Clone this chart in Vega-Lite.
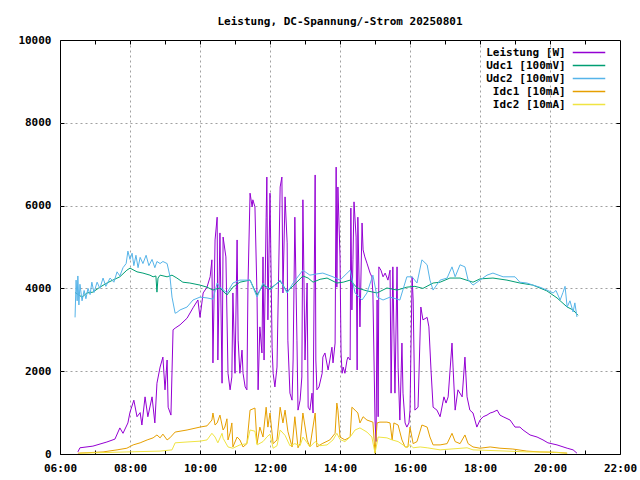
{
  "$schema": "https://vega.github.io/schema/vega-lite/v6.json",
  "width": 560,
  "height": 414,
  "autosize": "none",
  "padding": {"left": 60, "top": 40, "right": 20, "bottom": 26},
  "background": "white",
  "title": {
    "text": "Leistung, DC-Spannung/-Strom 20250801",
    "font": "DejaVu Sans Mono", "fontSize": 11, "fontWeight": "bold", "color": "black",
    "anchor": "middle", "offset": 7
  },
  "config": {
    "view": {"stroke": "black", "strokeWidth": 1},
    "axis": {
      "labelFont": "DejaVu Sans Mono", "labelFontSize": 11, "labelFontWeight": "bold",
      "labelColor": "black", "domain": false, "tickColor": "black", "tickSize": -4,
      "gridColor": "#a0a0a0", "gridDash": [2, 3], "title": null
    }
  },
  "datasets": {
    "P": [
      {"h":6.51,"v":50},{"h":6.57,"v":150},{"h":6.94,"v":190},{"h":7.34,"v":290},{"h":7.57,"v":360},
      {"h":7.71,"v":630},{"h":7.80,"v":500},{"h":7.94,"v":750},{"h":8.00,"v":1010},{"h":8.11,"v":1300},
      {"h":8.20,"v":900},{"h":8.29,"v":1000},{"h":8.34,"v":700},{"h":8.43,"v":1380},{"h":8.51,"v":900},
      {"h":8.63,"v":1380},{"h":8.71,"v":750},{"h":8.77,"v":1710},{"h":8.86,"v":2100},{"h":8.94,"v":2340},
      {"h":9.00,"v":1550},{"h":9.06,"v":2270},{"h":9.09,"v":1130},{"h":9.17,"v":940},{"h":9.23,"v":3000},
      {"h":9.29,"v":3040},{"h":9.43,"v":3120},{"h":9.63,"v":3280},{"h":9.80,"v":3530},{"h":9.94,"v":3720},
      {"h":10.00,"v":3300},{"h":10.09,"v":3890},{"h":10.20,"v":4030},{"h":10.29,"v":4280},{"h":10.34,"v":4690},
      {"h":10.37,"v":2200},{"h":10.43,"v":5170},{"h":10.49,"v":5720},{"h":10.51,"v":2270},{"h":10.57,"v":5340},
      {"h":10.63,"v":1710},{"h":10.66,"v":5240},{"h":10.74,"v":4760},{"h":10.80,"v":1950},{"h":10.86,"v":1550},
      {"h":10.91,"v":1860},{"h":10.94,"v":3890},{"h":11.00,"v":1950},{"h":11.06,"v":5170},{"h":11.09,"v":2750},
      {"h":11.14,"v":1950},{"h":11.20,"v":2510},{"h":11.23,"v":1950},{"h":11.29,"v":1620},{"h":11.34,"v":1550},
      {"h":11.37,"v":4030},{"h":11.43,"v":6300},{"h":11.49,"v":5970},{"h":11.51,"v":6140},{"h":11.57,"v":5970},
      {"h":11.63,"v":3790},{"h":11.66,"v":1550},{"h":11.71,"v":3070},{"h":11.77,"v":2440},{"h":11.80,"v":4760},
      {"h":11.83,"v":2270},{"h":11.89,"v":5720},{"h":11.91,"v":6690},{"h":11.94,"v":3240},{"h":12.00,"v":6300},
      {"h":12.06,"v":2580},{"h":12.09,"v":1950},{"h":12.14,"v":1620},{"h":12.20,"v":2100},{"h":12.29,"v":6450},
      {"h":12.34,"v":6690},{"h":12.37,"v":3890},{"h":12.43,"v":6210},{"h":12.49,"v":5100},{"h":12.51,"v":2750},
      {"h":12.57,"v":1470},{"h":12.63,"v":1300},{"h":12.66,"v":2270},{"h":12.71,"v":5720},{"h":12.77,"v":2750},
      {"h":12.80,"v":1060},{"h":12.86,"v":1300},{"h":12.91,"v":1860},{"h":12.94,"v":6140},{"h":13.00,"v":2270},
      {"h":13.06,"v":4130},{"h":13.09,"v":1130},{"h":13.14,"v":1060},{"h":13.20,"v":1470},{"h":13.23,"v":990},
      {"h":13.29,"v":6740},{"h":13.31,"v":2270},{"h":13.34,"v":1550},{"h":13.40,"v":1620},{"h":13.49,"v":1950},
      {"h":13.51,"v":2340},{"h":13.57,"v":2440},{"h":13.66,"v":2030},{"h":13.71,"v":2270},{"h":13.77,"v":2580},
      {"h":13.80,"v":2200},{"h":13.86,"v":2680},{"h":13.89,"v":6930},{"h":13.91,"v":4030},{"h":13.94,"v":6450},
      {"h":14.00,"v":4760},{"h":14.03,"v":2440},{"h":14.06,"v":1950},{"h":14.09,"v":2100},{"h":14.14,"v":1950},
      {"h":14.20,"v":2270},{"h":14.23,"v":2340},{"h":14.29,"v":2270},{"h":14.31,"v":5940},{"h":14.34,"v":3480},
      {"h":14.37,"v":4690},{"h":14.40,"v":6090},{"h":14.46,"v":5240},{"h":14.49,"v":2030},{"h":14.51,"v":5720},
      {"h":14.57,"v":3070},{"h":14.63,"v":5580},{"h":14.66,"v":4930},{"h":14.71,"v":4760},{"h":14.77,"v":4610},
      {"h":14.86,"v":4370},{"h":14.91,"v":4280},{"h":14.94,"v":3890},{"h":15.00,"v":820},{"h":15.03,"v":300},
      {"h":15.06,"v":3720},{"h":15.09,"v":900},{"h":15.11,"v":4520},{"h":15.17,"v":4440},{"h":15.23,"v":4280},
      {"h":15.29,"v":4370},{"h":15.37,"v":4200},{"h":15.43,"v":4440},{"h":15.46,"v":1470},{"h":15.51,"v":4520},
      {"h":15.57,"v":1470},{"h":15.63,"v":4520},{"h":15.66,"v":2100},{"h":15.71,"v":820},{"h":15.77,"v":2680},
      {"h":15.80,"v":1470},{"h":15.86,"v":750},{"h":15.91,"v":650},{"h":15.97,"v":750},{"h":16.00,"v":1060},
      {"h":16.06,"v":4280},{"h":16.09,"v":3720},{"h":16.14,"v":1060},{"h":16.23,"v":1130},{"h":16.31,"v":3550},
      {"h":16.37,"v":3240},{"h":16.49,"v":3300},{"h":16.54,"v":3070},{"h":16.60,"v":2030},{"h":16.66,"v":1130},
      {"h":16.77,"v":1060},{"h":16.86,"v":900},{"h":16.97,"v":1380},{"h":17.03,"v":1230},{"h":17.09,"v":1380},
      {"h":17.20,"v":2680},{"h":17.23,"v":2100},{"h":17.29,"v":1060},{"h":17.37,"v":1550},{"h":17.49,"v":1380},
      {"h":17.57,"v":2340},{"h":17.63,"v":1380},{"h":17.71,"v":1060},{"h":17.80,"v":990},{"h":17.91,"v":650},
      {"h":18.00,"v":820},{"h":18.09,"v":900},{"h":18.20,"v":940},{"h":18.29,"v":990},{"h":18.37,"v":1010},
      {"h":18.49,"v":1060},{"h":18.57,"v":940},{"h":18.66,"v":900},{"h":18.86,"v":820},{"h":19.00,"v":650},
      {"h":19.14,"v":650},{"h":19.23,"v":580},{"h":19.43,"v":460},{"h":19.63,"v":410},{"h":19.80,"v":340},
      {"h":19.94,"v":270},{"h":20.20,"v":220},{"h":20.49,"v":140},{"h":20.66,"v":100},{"h":20.77,"v":20}
    ],
    "U1": [
      {"h":6.43,"v":3900},{"h":6.63,"v":3790},{"h":6.77,"v":3890},{"h":6.94,"v":3910},{"h":7.14,"v":4030},
      {"h":7.34,"v":4130},{"h":7.51,"v":4200},{"h":7.71,"v":4280},{"h":7.91,"v":4440},{"h":8.00,"v":4490},
      {"h":8.20,"v":4400},{"h":8.37,"v":4370},{"h":8.57,"v":4320},{"h":8.66,"v":4280},{"h":8.74,"v":4300},
      {"h":8.77,"v":3910},{"h":8.80,"v":4250},{"h":8.86,"v":4320},{"h":9.06,"v":4280},{"h":9.20,"v":4320},
      {"h":9.34,"v":4250},{"h":9.51,"v":4150},{"h":9.71,"v":4130},{"h":10.00,"v":4080},{"h":10.20,"v":4030},
      {"h":10.37,"v":3960},{"h":10.57,"v":4010},{"h":10.77,"v":3840},{"h":10.94,"v":4030},{"h":11.14,"v":4150},
      {"h":11.43,"v":4200},{"h":11.63,"v":3840},{"h":11.80,"v":4080},{"h":12.00,"v":3990},{"h":12.29,"v":4180},
      {"h":12.49,"v":3920},{"h":12.66,"v":4060},{"h":12.94,"v":4300},{"h":13.09,"v":4250},{"h":13.23,"v":4150},
      {"h":13.43,"v":4220},{"h":13.63,"v":4250},{"h":13.91,"v":4130},{"h":14.09,"v":4150},{"h":14.29,"v":4200},
      {"h":14.49,"v":4010},{"h":14.77,"v":3940},{"h":15.06,"v":3890},{"h":15.34,"v":4010},{"h":15.63,"v":3960},
      {"h":15.91,"v":4030},{"h":16.14,"v":4050},{"h":16.37,"v":4000},{"h":16.66,"v":4130},{"h":16.86,"v":4150},
      {"h":17.14,"v":4250},{"h":17.43,"v":4250},{"h":17.80,"v":4150},{"h":18.00,"v":4230},{"h":18.37,"v":4250},
      {"h":18.77,"v":4200},{"h":19.14,"v":4130},{"h":19.51,"v":4080},{"h":19.91,"v":3940},{"h":20.20,"v":3770},
      {"h":20.49,"v":3550},{"h":20.66,"v":3480},{"h":20.80,"v":3350}
    ],
    "U2": [
      {"h":6.43,"v":3300},{"h":6.46,"v":4200},{"h":6.49,"v":3700},{"h":6.51,"v":4300},{"h":6.54,"v":3600},
      {"h":6.57,"v":4100},{"h":6.63,"v":3700},{"h":6.69,"v":3950},{"h":6.74,"v":3750},{"h":6.80,"v":4000},
      {"h":6.86,"v":3850},{"h":6.91,"v":4150},{"h":6.97,"v":3900},{"h":7.06,"v":4150},{"h":7.14,"v":4000},
      {"h":7.23,"v":4250},{"h":7.31,"v":4050},{"h":7.43,"v":4250},{"h":7.54,"v":4150},{"h":7.63,"v":4400},
      {"h":7.71,"v":4300},{"h":7.80,"v":4500},{"h":7.89,"v":4600},{"h":7.94,"v":4900},{"h":8.00,"v":4700},
      {"h":8.06,"v":4850},{"h":8.11,"v":4550},{"h":8.17,"v":4800},{"h":8.23,"v":4500},{"h":8.29,"v":4750},
      {"h":8.37,"v":4600},{"h":8.46,"v":4800},{"h":8.54,"v":4550},{"h":8.63,"v":4700},{"h":8.71,"v":4500},
      {"h":8.77,"v":4650},{"h":8.86,"v":4600},{"h":8.94,"v":4650},{"h":9.06,"v":4600},{"h":9.14,"v":4300},
      {"h":9.20,"v":3790},{"h":9.29,"v":3400},{"h":9.34,"v":3420},{"h":9.43,"v":3480},{"h":9.63,"v":3550},
      {"h":9.80,"v":3720},{"h":10.00,"v":3790},{"h":10.20,"v":3770},{"h":10.37,"v":3740},{"h":10.49,"v":4130},
      {"h":10.57,"v":4030},{"h":10.77,"v":3890},{"h":10.94,"v":4130},{"h":11.14,"v":4200},{"h":11.43,"v":4200},
      {"h":11.63,"v":3790},{"h":11.80,"v":4130},{"h":12.00,"v":3960},{"h":12.29,"v":4200},{"h":12.49,"v":3890},
      {"h":12.66,"v":4130},{"h":12.94,"v":4440},{"h":13.14,"v":4320},{"h":13.34,"v":4350},{"h":13.51,"v":4370},
      {"h":13.80,"v":4280},{"h":14.00,"v":4200},{"h":14.29,"v":4440},{"h":14.43,"v":3890},{"h":14.63,"v":3720},
      {"h":14.77,"v":3890},{"h":14.94,"v":4320},{"h":15.06,"v":3790},{"h":15.23,"v":3720},{"h":15.43,"v":3790},
      {"h":15.71,"v":3720},{"h":15.91,"v":4280},{"h":16.06,"v":4280},{"h":16.20,"v":4130},{"h":16.34,"v":4690},
      {"h":16.49,"v":4570},{"h":16.57,"v":4200},{"h":16.66,"v":3960},{"h":16.86,"v":4200},{"h":17.06,"v":4250},
      {"h":17.20,"v":4520},{"h":17.29,"v":4280},{"h":17.43,"v":4570},{"h":17.57,"v":4520},{"h":17.66,"v":4200},
      {"h":17.80,"v":4080},{"h":18.00,"v":4200},{"h":18.20,"v":4320},{"h":18.37,"v":4370},{"h":18.66,"v":4280},
      {"h":19.00,"v":4280},{"h":19.14,"v":4150},{"h":19.34,"v":4130},{"h":19.51,"v":4080},{"h":19.71,"v":4030},
      {"h":19.91,"v":3960},{"h":20.09,"v":3890},{"h":20.17,"v":3950},{"h":20.29,"v":3720},{"h":20.37,"v":3900},
      {"h":20.43,"v":4050},{"h":20.49,"v":3550},{"h":20.57,"v":3700},{"h":20.66,"v":3430},{"h":20.71,"v":3650},
      {"h":20.77,"v":3310}
    ],
    "I1": [
      {"h":6.51,"v":20},{"h":7.23,"v":50},{"h":7.63,"v":100},{"h":7.91,"v":140},{"h":8.09,"v":220},
      {"h":8.29,"v":270},{"h":8.49,"v":340},{"h":8.66,"v":390},{"h":8.77,"v":460},{"h":8.86,"v":390},
      {"h":8.94,"v":480},{"h":9.06,"v":340},{"h":9.14,"v":390},{"h":9.29,"v":530},{"h":9.63,"v":580},
      {"h":10.00,"v":650},{"h":10.20,"v":680},{"h":10.34,"v":820},{"h":10.37,"v":990},{"h":10.43,"v":700},
      {"h":10.49,"v":750},{"h":10.57,"v":940},{"h":10.66,"v":580},{"h":10.71,"v":650},{"h":10.77,"v":850},
      {"h":10.80,"v":340},{"h":10.86,"v":510},{"h":10.91,"v":750},{"h":10.94,"v":170},{"h":11.06,"v":410},
      {"h":11.14,"v":340},{"h":11.23,"v":170},{"h":11.34,"v":250},{"h":11.43,"v":1060},{"h":11.57,"v":1110},
      {"h":11.63,"v":250},{"h":11.71,"v":650},{"h":11.80,"v":410},{"h":11.89,"v":1130},{"h":11.94,"v":650},
      {"h":12.00,"v":990},{"h":12.09,"v":250},{"h":12.20,"v":340},{"h":12.29,"v":1130},{"h":12.37,"v":750},
      {"h":12.43,"v":1060},{"h":12.51,"v":550},{"h":12.63,"v":170},{"h":12.71,"v":900},{"h":12.80,"v":150},
      {"h":12.86,"v":250},{"h":12.94,"v":990},{"h":13.06,"v":340},{"h":13.14,"v":170},{"h":13.29,"v":990},
      {"h":13.34,"v":170},{"h":13.49,"v":250},{"h":13.71,"v":340},{"h":13.86,"v":500},{"h":13.91,"v":1230},
      {"h":13.94,"v":1060},{"h":14.00,"v":410},{"h":14.14,"v":340},{"h":14.29,"v":410},{"h":14.34,"v":1130},
      {"h":14.43,"v":1060},{"h":14.51,"v":990},{"h":14.57,"v":750},{"h":14.66,"v":900},{"h":14.77,"v":820},
      {"h":14.94,"v":770},{"h":15.00,"v":20},{"h":15.06,"v":750},{"h":15.14,"v":770},{"h":15.34,"v":770},
      {"h":15.43,"v":750},{"h":15.49,"v":340},{"h":15.54,"v":750},{"h":15.66,"v":700},{"h":15.77,"v":340},
      {"h":15.86,"v":170},{"h":15.94,"v":170},{"h":16.00,"v":650},{"h":16.09,"v":250},{"h":16.20,"v":300},
      {"h":16.34,"v":700},{"h":16.49,"v":650},{"h":16.57,"v":410},{"h":16.66,"v":220},{"h":16.86,"v":220},
      {"h":17.06,"v":250},{"h":17.20,"v":500},{"h":17.29,"v":300},{"h":17.43,"v":250},{"h":17.57,"v":460},
      {"h":17.66,"v":250},{"h":17.80,"v":170},{"h":18.00,"v":140},{"h":18.29,"v":170},{"h":18.57,"v":140},
      {"h":18.94,"v":120},{"h":19.34,"v":70},{"h":19.71,"v":50},{"h":20.20,"v":40},{"h":20.49,"v":20}
    ],
    "I2": [
      {"h":6.57,"v":20},{"h":7.91,"v":50},{"h":8.86,"v":70},{"h":9.20,"v":100},{"h":9.29,"v":270},
      {"h":9.63,"v":290},{"h":10.00,"v":310},{"h":10.20,"v":340},{"h":10.34,"v":500},{"h":10.43,"v":410},
      {"h":10.51,"v":270},{"h":10.63,"v":500},{"h":10.66,"v":380},{"h":10.80,"v":170},{"h":10.94,"v":140},
      {"h":11.14,"v":220},{"h":11.34,"v":250},{"h":11.43,"v":580},{"h":11.57,"v":550},{"h":11.63,"v":220},
      {"h":11.80,"v":300},{"h":11.91,"v":410},{"h":12.00,"v":480},{"h":12.09,"v":140},{"h":12.20,"v":200},
      {"h":12.29,"v":580},{"h":12.43,"v":450},{"h":12.57,"v":200},{"h":12.71,"v":250},{"h":12.86,"v":200},
      {"h":12.94,"v":410},{"h":13.06,"v":270},{"h":13.14,"v":170},{"h":13.29,"v":300},{"h":13.43,"v":200},
      {"h":13.63,"v":220},{"h":13.80,"v":340},{"h":13.91,"v":500},{"h":14.00,"v":350},{"h":14.14,"v":300},
      {"h":14.29,"v":410},{"h":14.43,"v":580},{"h":14.57,"v":630},{"h":14.77,"v":530},{"h":14.91,"v":410},
      {"h":15.00,"v":20},{"h":15.09,"v":410},{"h":15.34,"v":390},{"h":15.49,"v":340},{"h":15.66,"v":300},
      {"h":15.80,"v":220},{"h":15.91,"v":150},{"h":16.00,"v":230},{"h":16.09,"v":150},{"h":16.29,"v":170},
      {"h":16.49,"v":150},{"h":16.86,"v":100},{"h":17.63,"v":150},{"h":17.80,"v":100},{"h":18.77,"v":70},
      {"h":19.34,"v":50},{"h":19.91,"v":50},{"h":20.49,"v":20}
    ]
  },
  "encoding": {
    "x": {"field": "h", "type": "quantitative", "scale": {"domain": [6, 22], "nice": false}},
    "y": {"field": "v", "type": "quantitative", "scale": {"domain": [0, 10000], "nice": false, "zero": false}}
  },
  "layer": [
    {
      "data": {"name": "P"},
      "mark": {"type": "line", "strokeWidth": 1},
      "encoding": {
        "x": {"field": "h", "type": "quantitative",
          "axis": {
            "values": [6,7,8,9,10,11,12,13,14,15,16,17,18,19,20,21,22],
            "grid": true,
            "gridOpacity": {"condition": {"test": "datum.value % 2 == 0 && datum.value > 6 && datum.value < 22", "value": 1}, "value": 0},
            "labelExpr": "datum.value % 2 == 0 ? ((datum.value < 10 ? '0' : '') + datum.value + ':00') : ''",
            "labelPadding": 12, "labelFlush": false
          }
        },
        "y": {"field": "v", "type": "quantitative",
          "axis": {
            "values": [0,2000,4000,6000,8000,10000],
            "format": "d",
            "grid": true,
            "gridOpacity": {"condition": {"test": "datum.value > 0 && datum.value < 10000", "value": 1}, "value": 0},
            "labelPadding": 13, "labelFlush": false
          }
        },
        "color": {
          "datum": "Leistung [W]",
          "scale": {
            "domain": ["Leistung [W]", "Udc1 [100mV]", "Udc2 [100mV]", "Idc1 [10mA]", "Idc2 [10mA]"],
            "range": ["#9400d3", "#009e73", "#56b4e9", "#e69f00", "#f0e442"]
          },
          "legend": {
            "title": null, "orient": "none", "legendX": 521.5, "legendY": 5,
            "symbolType": "M-2.5,0H2.5", "symbolSize": 169, "symbolStrokeWidth": 1.3,
            "labelFont": "DejaVu Sans Mono", "labelFontSize": 11, "labelFontWeight": "bold",
            "labelColor": "black", "labelAlign": "right", "labelOffset": -30.8, "rowPadding": 0,
            "symbolOffset": 0
          }
        }
      }
    },
    {
      "data": {"name": "U1"},
      "mark": {"type": "line", "strokeWidth": 1},
      "encoding": {
        "x": {"field": "h", "type": "quantitative",
          "axis": {"orient": "top", "values": [7,8,9,10,11,12,13,14,15,16,17,18,19,20,21], "labels": false, "grid": false}},
        "y": {"field": "v", "type": "quantitative",
          "axis": {"orient": "right", "values": [2000,4000,6000,8000], "labels": false, "grid": false}},
        "color": {"datum": "Udc1 [100mV]"}
      }
    },
    {
      "data": {"name": "U2"},
      "mark": {"type": "line", "strokeWidth": 1},
      "encoding": {
        "x": {"field": "h", "type": "quantitative", "axis": null},
        "y": {"field": "v", "type": "quantitative", "axis": null},
        "color": {"datum": "Udc2 [100mV]"}
      }
    },
    {
      "data": {"name": "I1"},
      "mark": {"type": "line", "strokeWidth": 1},
      "encoding": {
        "x": {"field": "h", "type": "quantitative", "axis": null},
        "y": {"field": "v", "type": "quantitative", "axis": null},
        "color": {"datum": "Idc1 [10mA]"}
      }
    },
    {
      "data": {"name": "I2"},
      "mark": {"type": "line", "strokeWidth": 1},
      "encoding": {
        "x": {"field": "h", "type": "quantitative", "axis": null},
        "y": {"field": "v", "type": "quantitative", "axis": null},
        "color": {"datum": "Idc2 [10mA]"}
      }
    }
  ],
  "resolve": {"axis": {"x": "independent", "y": "independent"}}
}
